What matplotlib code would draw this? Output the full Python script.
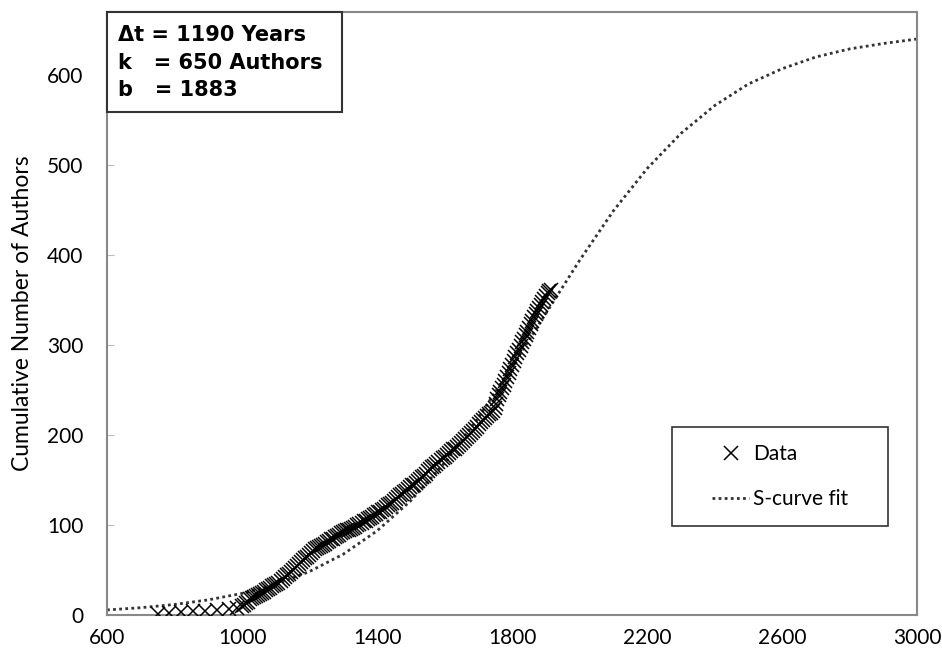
import matplotlib.pyplot as plt
from matplotlib.patches import Rectangle

# === Data (cumulative authors by year)
data_years = [750, 785, 820, 855, 890, 925, 960, 985,
              1000, 1006, 1012, 1018, 1024, 1030, 1036, 1042, 1048, 1054, 1060, 1066,
              1072, 1078, 1084, 1090, 1096, 1102, 1108, 1114, 1120, 1126, 1132, 1138,
              1144, 1150, 1156, 1162, 1168, 1174, 1180, 1186, 1192, 1198, 1204, 1210,
              1216, 1222, 1228, 1234, 1240, 1246, 1252, 1258, 1264, 1270, 1276, 1282,
              1288, 1294, 1300, 1306, 1312, 1318, 1324, 1330, 1336, 1342, 1348, 1354,
              1360, 1366, 1372, 1378, 1384, 1390, 1396, 1402, 1408, 1414, 1420, 1426,
              1432, 1438, 1444, 1450, 1456, 1462, 1468, 1474, 1480, 1486, 1492, 1498,
              1504, 1510, 1516, 1522, 1528, 1534, 1540, 1546, 1552, 1558, 1564, 1570,
              1576, 1582, 1588, 1594, 1600, 1606, 1612, 1618, 1624, 1630, 1636, 1642,
              1648, 1654, 1660, 1666, 1672, 1678, 1684, 1690, 1696, 1702, 1708, 1714,
              1720, 1726, 1732, 1738, 1744, 1748, 1752, 1756, 1760, 1765, 1770, 1775,
              1780, 1785, 1790, 1795, 1800, 1805, 1810, 1815, 1820, 1825, 1830, 1835,
              1840, 1845, 1850, 1855, 1860, 1865, 1870, 1875, 1880, 1885, 1890, 1895,
              1900, 1905, 1910, 1915]
data_authors = [1, 2, 3, 4, 5, 6, 7, 8,
                10, 11, 13, 15, 18, 19, 20, 21, 22, 23, 25, 26,
                28, 29, 30, 32, 33, 35, 36, 38, 40, 42, 44, 46,
                48, 50, 52, 55, 57, 59, 61, 63, 65, 67, 69, 71,
                73, 75, 76, 77, 78, 79, 81, 82, 84, 85, 87, 88,
                89, 91, 92, 93, 94, 95, 96, 97, 98, 100, 101, 102,
                104, 105, 107, 108, 109, 111, 112, 114, 115, 117, 118, 120,
                122, 123, 125, 127, 129, 131, 133, 135, 137, 138, 140, 142,
                144, 145, 147, 149, 151, 153, 155, 157, 160, 162, 164, 166,
                168, 170, 172, 174, 176, 178, 180, 182, 184, 185, 187, 189,
                191, 193, 196, 198, 200, 202, 204, 207, 209, 212, 214, 217,
                219, 221, 223, 225, 227, 230, 234, 240, 244, 248, 252, 256,
                260, 264, 269, 273, 278, 282, 287, 291, 295, 299, 303, 307,
                311, 315, 319, 323, 327, 331, 334, 338, 341, 345, 348, 351,
                355, 358, 360, 361]

# S-curve fit as drawn (every 100 years)
fit_years = [600, 700, 800, 900, 1000, 1100, 1200, 1300, 1400, 1500, 1600, 1700,
             1800, 1900, 2000, 2100, 2200, 2300, 2400, 2500, 2600, 2700, 2800,
             2900, 3000]
fit_authors = [5.6, 8.1, 11.7, 16.8, 24.0, 34.2, 48.3, 67.6, 93.5, 127, 169, 219,
               276, 335, 394, 449, 496, 535, 566, 590, 607, 620, 629, 635, 640]

x_ticks = [600, 1000, 1400, 1800, 2200, 2600, 3000]
y_ticks = [0, 100, 200, 300, 400, 500, 600]
param_lines = ["\u0394t = 1190 Years", "k   = 650 Authors", "b   = 1883"]

plt.rcParams['font.family'] = ['Lato', 'DejaVu Sans']

fig = plt.figure(figsize=(9.42, 6.56), dpi=100)
ax = fig.add_axes([0.1136, 0.0625, 0.86, 0.9192])

ax.plot(fit_years, fit_authors, linestyle=(0, (1, 1.2)), linewidth=2.0,
        color='#333333', label='S-curve fit', zorder=2)
ax.plot(data_years, data_authors, linestyle='none', marker='x', markersize=10.5,
        markeredgewidth=1.1, color='black', label='Data', zorder=3)

ax.set_xlim(600, 3000)
ax.set_ylim(0, 670)
ax.set_xticks(x_ticks)
ax.set_yticks(y_ticks)
ax.tick_params(axis='x', length=0, pad=9, labelsize=15)
ax.tick_params(axis='y', direction='in', length=5, color='#bbbbbb', pad=17, labelsize=15)
for s in ax.spines.values():
    s.set_color('#888888')
    s.set_linewidth(1.5)

ax.set_ylabel("Cumulative Number of Authors", fontsize=16.5, labelpad=10)

# parameter box in the top-left corner
ax.add_patch(Rectangle((0, 0.834), 0.29, 0.166, transform=ax.transAxes,
                       facecolor='white', edgecolor='#333333', linewidth=1.5,
                       zorder=4, clip_on=False))
for i, line in enumerate(param_lines):
    ax.text(0.014, 0.962 - i * 0.046, line, transform=ax.transAxes, fontsize=15,
            family='DejaVu Sans', fontweight='bold', va='center', ha='left', zorder=5)

# legend inside its own box
ax.add_patch(Rectangle((0.698, 0.148), 0.266, 0.164, transform=ax.transAxes,
                       facecolor='white', edgecolor='#333333', linewidth=1.2, zorder=4))
h, l = ax.get_legend_handles_labels()
leg = ax.legend([h[1], h[0]], [l[1], l[0]], loc='center',
                bbox_to_anchor=(0.831, 0.23), frameon=False, fontsize=15,
                handlelength=1.8, handletextpad=0.2, labelspacing=1.2)
leg.set_zorder(5)

fig.savefig("out.png")
